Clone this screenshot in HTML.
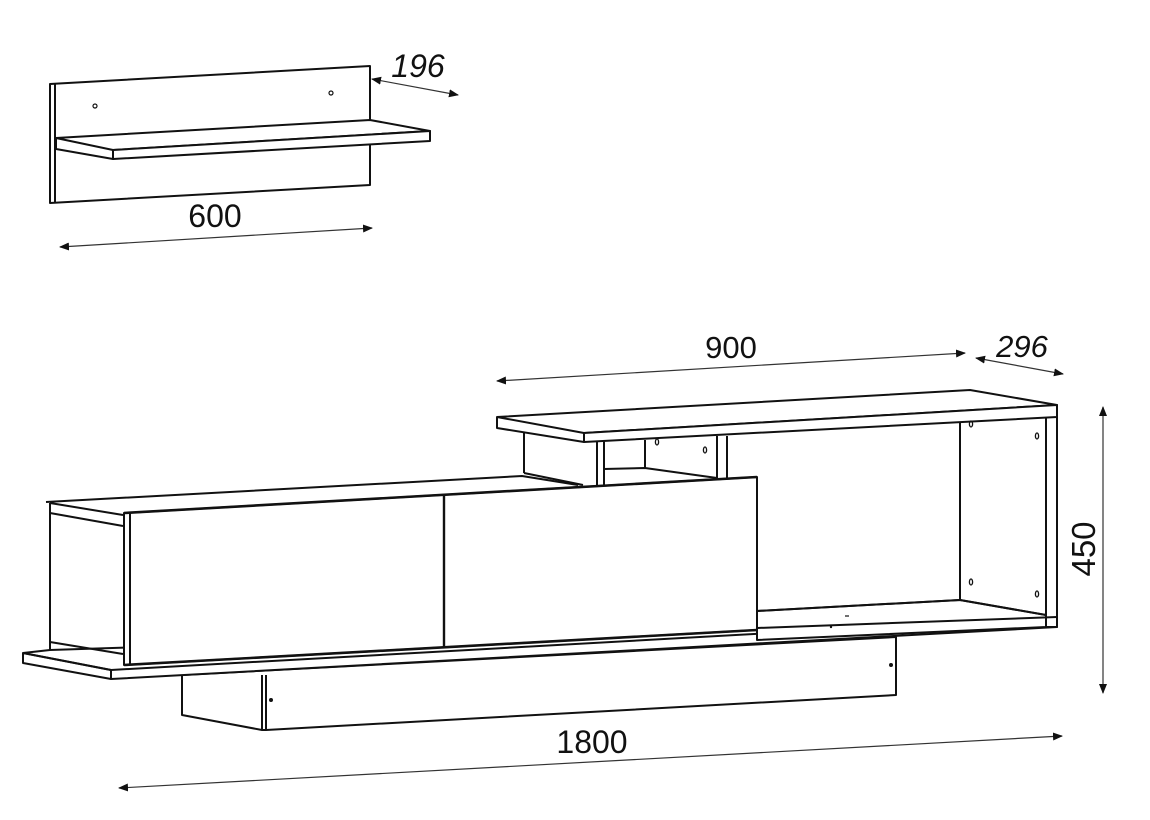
<!DOCTYPE html>
<html><head><meta charset="utf-8"><style>
html,body{margin:0;padding:0;background:#fff;}
svg{display:block;}
text{font-family:"Liberation Sans",sans-serif;fill:#111;}
</style></head><body>
<svg width="1150" height="820" viewBox="0 0 1150 820" xmlns="http://www.w3.org/2000/svg">
<defs>
<marker id="a" viewBox="0 0 10 10" refX="9" refY="5" markerWidth="10" markerHeight="10" orient="auto-start-reverse" markerUnits="userSpaceOnUse"><path d="M0,1 L10,5 L0,9 Z" fill="#111"/></marker>
</defs>
<g fill="none" stroke="#111" stroke-width="2" stroke-linejoin="round">
<!-- small wall shelf -->
<polygon points="50,84 370,66 370,185 50,203" fill="#fff"/>
<line x1="55" y1="84" x2="55" y2="203"/>
<polygon points="56,138 370,120 430,131 113,150" fill="#fff"/>
<polygon points="113,150 430,131 430,141 113,159" fill="#fff"/>
<polyline points="56,138 56,149 113,159"/>
<circle cx="95" cy="106" r="2" stroke-width="1.2"/>
<circle cx="331" cy="93" r="2" stroke-width="1.2"/>

<!-- hanging back panel -->
<polygon points="182,675 896,637 896,695 266,730 262,730 182,715" fill="#fff"/>
<line x1="262" y1="675" x2="262" y2="730"/>
<line x1="266" y1="675" x2="266" y2="730"/>

<!-- base shelf -->
<polygon points="23,653 50,650 1057,617 1057,627 111,679 111,670" fill="#fff"/>
<polyline points="23,653 23,663 111,679"/>
<line x1="23" y1="653" x2="111" y2="670"/>
<line x1="111" y1="670" x2="1057" y2="617"/>

<!-- upper open compartment -->
<polygon points="757,611 960,600 1046,615 1046,627 757,640" fill="#fff"/>
<line x1="757" y1="611" x2="960" y2="600"/>
<line x1="960" y1="600" x2="1046" y2="615"/>
<line x1="960" y1="422" x2="960" y2="600"/>
<polygon points="1046,417 1057,417 1057,627 1046,627" fill="#fff"/>
<line x1="757" y1="628" x2="1057" y2="617"/>

<!-- top shelf -->
<polygon points="497,417 970,390 1057,405 584,433" fill="#fff"/>
<polygon points="584,433 1057,405 1057,417 584,442" fill="#fff"/>
<polyline points="497,417 497,428 584,442"/>
<line x1="524" y1="433" x2="524" y2="473"/>
<polyline points="524,473 583,485"/>
<line x1="597" y1="442" x2="597" y2="485"/>
<line x1="604" y1="441" x2="604" y2="485"/>
<polyline points="604,469 645,468 717,478"/>
<line x1="645" y1="440" x2="645" y2="468"/>
<line x1="717" y1="436" x2="717" y2="478"/>
<line x1="727" y1="436" x2="727" y2="478"/>

<!-- left box -->
<polyline points="50,503 123,515"/>
<polyline points="50,513 123,526"/>
<polyline points="50,642 123,654"/>
<line x1="50" y1="503" x2="50" y2="650"/>
<polyline points="46,502 522,476 578,485"/>
<!-- doors -->
<polygon points="124,513 757,477 757,630 124,665" fill="#fff"/>
<line x1="130" y1="513" x2="130" y2="665"/>
<line x1="444" y1="495" x2="444" y2="647" stroke-width="2.4"/>
<line x1="124" y1="513" x2="757" y2="477" stroke-width="2.6"/>
<line x1="124" y1="665" x2="757" y2="630" stroke-width="2.6"/>

<g stroke-width="1.3">
<ellipse cx="657" cy="442" rx="1.6" ry="3"/>
<ellipse cx="705" cy="450" rx="1.6" ry="3"/>
<ellipse cx="971" cy="424" rx="1.6" ry="3"/>
<ellipse cx="1037" cy="436" rx="1.6" ry="3"/>
<ellipse cx="971" cy="582" rx="1.6" ry="3"/>
<ellipse cx="1037" cy="594" rx="1.6" ry="3"/>
</g>
</g>
<circle cx="271" cy="700" r="2" fill="#111"/>
<circle cx="891" cy="665" r="2" fill="#111"/>
<line x1="845" y1="616" x2="849" y2="616" stroke="#111" stroke-width="1.2"/>
<circle cx="831" cy="627" r="1.2" fill="#111"/>

<g stroke="#333" stroke-width="1.2" fill="none">
<line x1="372" y1="79" x2="458" y2="95" marker-start="url(#a)" marker-end="url(#a)"/>
<line x1="60" y1="247" x2="372" y2="228" marker-start="url(#a)" marker-end="url(#a)"/>
<line x1="497" y1="381" x2="965" y2="353" marker-start="url(#a)" marker-end="url(#a)"/>
<line x1="976" y1="358" x2="1063" y2="374" marker-start="url(#a)" marker-end="url(#a)"/>
<line x1="1103" y1="407" x2="1103" y2="693" marker-start="url(#a)" marker-end="url(#a)"/>
<line x1="119" y1="788" x2="1062" y2="736" marker-start="url(#a)" marker-end="url(#a)"/>
</g>
<text x="418" y="77" font-size="32" font-style="italic" text-anchor="middle">196</text>
<text x="215" y="227" font-size="32" text-anchor="middle">600</text>
<text x="731" y="358" font-size="31" text-anchor="middle">900</text>
<text x="1022" y="357" font-size="31" font-style="italic" text-anchor="middle">296</text>
<text x="0" y="0" font-size="33" text-anchor="middle" transform="translate(1095,549) rotate(-90)">450</text>
<text x="592" y="753" font-size="32" text-anchor="middle">1800</text>
</svg>
</body></html>
